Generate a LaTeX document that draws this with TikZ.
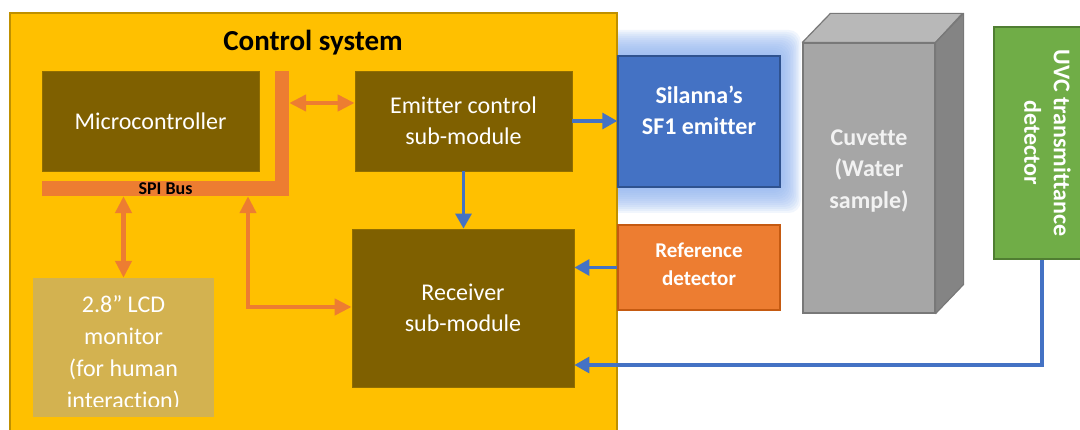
\documentclass[tikz,border=0pt]{standalone}
\usepackage{fontspec}
\setmainfont{Carlito}[RawFeature={-liga;-clig;-calt;-dlig}]
\usetikzlibrary{arrows.meta}

\definecolor{ctrlfill}{RGB}{255,192,0}
\definecolor{ctrledge}{RGB}{191,144,0}
\definecolor{modfill}{RGB}{127,96,0}
\definecolor{lcdfill}{RGB}{211,178,80}
\definecolor{busor}{RGB}{237,125,49}
\definecolor{refedge}{RGB}{197,90,17}
\definecolor{sigblue}{RGB}{68,114,196}
\definecolor{blueedge}{RGB}{47,82,143}
\definecolor{glowblue}{RGB}{145,181,242}
\definecolor{uvcgreen}{RGB}{112,173,71}
\definecolor{uvcedge}{RGB}{80,126,50}
\definecolor{cuvfront}{RGB}{166,166,166}
\definecolor{cuvtop}{RGB}{184,184,184}
\definecolor{cuvside}{RGB}{132,132,132}
\definecolor{cuvedge}{RGB}{120,120,120}
\definecolor{cuvtext}{RGB}{242,242,242}

\begin{document}
\begin{tikzpicture}[x=1pt,y=-1pt,
  box/.style={rectangle, inner sep=0pt, align=center, text=white},
  body/.style={font=\fontsize{24}{31}\selectfont},
  bbody/.style={font=\bfseries\fontsize{24}{31}\selectfont},
  module/.style={box, body, fill=modfill, draw=modfill!85!ctrlfill, line width=0.8pt},
  busbar/.style={rectangle, inner sep=0pt, fill=busor},
  sigline/.style={draw=sigblue, line width=3.2pt, -{Triangle[length=15pt,width=16pt]}},
  busline/.style={draw=busor, line width=4.2pt,
    {Triangle[length=17pt,width=16pt]}-{Triangle[length=17pt,width=16pt]}},
]
\useasboundingbox (0,0) rectangle (1080,430);
\fill[white] (0,0) rectangle (1080,430);

% soft glow around the emitter
\foreach \e in {2,4,...,26}
  \fill[glowblue, opacity=0.12, rounded corners=12pt]
    (600,56-\e) rectangle (780+0.8*\e,187+\e);

% control system enclosure
\node[rectangle, inner sep=0pt, fill=ctrlfill, draw=ctrledge, line width=1.5pt,
      minimum width=607, minimum height=432] (ctrl) at (313.5,229) {};
\node[font=\bfseries\fontsize{29}{34}\selectfont] (title) at (313,43) {Control system};

% modules inside the control system
\node[module, minimum width=217, minimum height=100] (mcu) at (150.5,121) {Microcontroller};
\node[module, minimum width=217, minimum height=100] (emc) at (463.5,121) {Emitter control\\sub-module};
\node[module, minimum width=222, minimum height=158] (rcv) at (463,308) {Receiver\\sub-module};
\node[box, fill=lcdfill, minimum width=181, minimum height=139] (lcd) at (123.5,347.5) {};
\begin{scope}
  \clip (lcd.north west) rectangle (214,407);
  \node[body, font=\fontsize{24}{32}\selectfont, text=white, align=center] (lcdtext) at (123.5,354)
    {2.8” LCD\\monitor\\(for human\\interaction)};
\end{scope}

% SPI bus
\node[busbar, minimum width=247, minimum height=15,
      font=\bfseries\fontsize{18}{20}\selectfont] (spih) at (165.5,188.5) {SPI Bus};
\node[busbar, minimum width=14, minimum height=125] (spiv) at (282,133.5) {};

% external parts
\node[box, bbody, fill=sigblue, draw=blueedge, line width=1.5pt,
      minimum width=162, minimum height=131] (sf1) at (699,121.5) {};
\node[bbody, text=white, align=center] (sf1text) at (699,110) {Silanna’s\\SF1 emitter};
\node[box, fill=busor, draw=refedge, line width=1.5pt,
      minimum width=162, minimum height=85] (ref) at (699,267.5) {};
\node[font=\bfseries\fontsize{21}{28}\selectfont, text=white, align=center]
  (reftext) at (699,264.5) {Reference\\detector};

% cuvette drawn as a block
\node[box, fill=cuvfront, draw=cuvedge, line width=1.2pt,
      minimum width=132, minimum height=270] (cuv) at (869,178) {};
\filldraw[fill=cuvtop, draw=cuvedge, line width=1.2pt, line join=round]
  (cuv.north west) -- ++(28,-29) -- ++(132,0) -- (cuv.north east) -- cycle;
\filldraw[fill=cuvside, draw=cuvedge, line width=1.2pt, line join=round]
  (cuv.north east) -- ++(28,-29) -- ++(0,271) -- (cuv.south east) -- cycle;
\node[font=\bfseries\fontsize{24}{31.5}\selectfont, text=cuvtext, align=center]
  (cuvtext) at (869,171) {Cuvette\\(Water\\sample)};

% UVC detector
\node[box, fill=uvcgreen, draw=uvcedge, line width=1.5pt,
      minimum width=106, minimum height=232] (uvc) at (1047,143) {};
\node[text=white, align=center, font=\bfseries\fontsize{24}{29.5}\selectfont, rotate=-90]
  (uvctext) at (1047.5,143) {UVC transmittance\\detector};

% bus connections
\coordinate (b1) at (320,103);
\coordinate (b2) at (248,307);
\draw[busline] (spiv.east |- b1) -- (emc.west |- b1);
\draw[busline] (spih.south -| lcd.north) -- (lcd.north);
\draw[busline] (spih.south -| b2) |- (rcv.west |- b2);

% signal connections
\coordinate (m) at (1042,365);
\draw[sigline] (emc.east) -- (sf1.west |- emc.east);
\draw[sigline] (emc.south) -- (rcv.north -| emc.south);
\draw[sigline] (ref.west) -- (rcv.east |- ref.west);
\draw[sigline] (uvc.south -| m) |- (rcv.east |- m);
\end{tikzpicture}
\end{document}
